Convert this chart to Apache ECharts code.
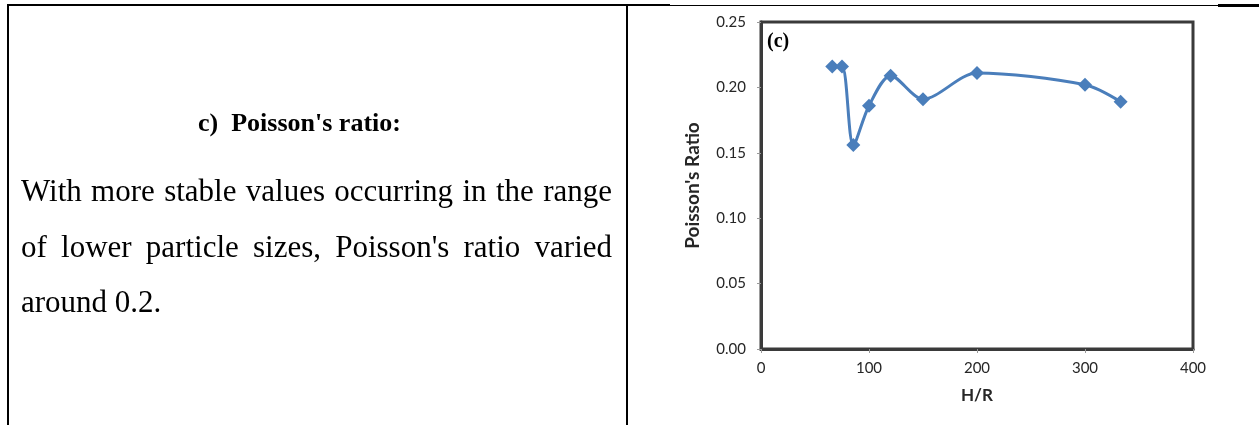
<!DOCTYPE html>
<html>
<head>
<meta charset="utf-8">
<script src="https://cdn.jsdelivr.net/npm/echarts@6/dist/echarts.min.js"></script>
<style>
  html, body { margin: 0; padding: 0; background: #fff; }
  #page { position: relative; width: 1259px; height: 425px; overflow: hidden; }
  #container { position: absolute; left: 0; top: 0; width: 1259px; height: 425px; }
  .rule { position: absolute; background: #000; }
  .txt { position: absolute; font-family: "Liberation Serif", "Times New Roman", serif; color: #000; white-space: nowrap; }
  .just { text-align: justify; text-align-last: justify; }
</style>
</head>
<body>
<div id="page">
  <div id="container"></div>
  <!-- table rules -->
  <div class="rule" style="left:7px;top:4px;width:663px;height:2px"></div>
  <div class="rule" style="left:670px;top:5px;width:548px;height:1px"></div>
  <div class="rule" style="left:1218px;top:4px;width:41px;height:3px"></div>
  <div class="rule" style="left:7px;top:4px;width:2px;height:421px"></div>
  <div class="rule" style="left:626px;top:4px;width:2px;height:421px"></div>
  <!-- left cell text -->
  <div class="txt" style="left:198px;top:106px;font-size:26px;font-weight:bold;line-height:34px">c)&nbsp;&nbsp;Poisson's ratio:</div>
  <div class="txt just" style="left:21px;top:172px;width:591px;font-size:31px;line-height:38px">With more stable values occurring in the range</div>
  <div class="txt just" style="left:21px;top:228px;width:591px;font-size:31px;line-height:38px">of lower particle sizes, Poisson's ratio varied</div>
  <div class="txt" style="left:21px;top:283px;font-size:31px;line-height:38px">around 0.2.</div>
</div>
<script>
var hrValues = [66, 75, 85.5, 100, 120, 150, 200, 300, 333];
var ratioValues = [0.216, 0.216, 0.156, 0.186, 0.209, 0.191, 0.211, 0.202, 0.189];
var xTicks = [0, 100, 200, 300, 400];
var yTicks = [0, 0.05, 0.10, 0.15, 0.20, 0.25];

var points = [];
for (var i = 0; i < hrValues.length; i++) {
    points.push([hrValues[i], ratioValues[i]]);
}

var dom = document.getElementById("container");
var myChart = echarts.init(dom);
var axisFont = 'Lato, "Open Sans", sans-serif';
var option = {
    animation: false,
    grid: {
        left: 761, top: 22, right: 66, bottom: 76,
        show: true, borderColor: '#3a3a3a', borderWidth: 3,
        backgroundColor: 'transparent'
    },
    graphic: [{
        type: 'text', left: 767, top: 32,
        style: { text: '(c)', fill: '#000', font: 'bold 20px "Liberation Serif", serif' }
    }],
    xAxis: {
        type: 'value',
        min: xTicks[0], max: xTicks[xTicks.length - 1], interval: 100,
        name: 'H/R', nameLocation: 'middle', nameGap: 38,
        nameTextStyle: { fontFamily: axisFont, fontWeight: 'bold', fontSize: 17, color: '#262626' },
        axisLine: { show: true, lineStyle: { color: '#3a3a3a', width: 3 } },
        axisTick: { show: true, length: 4, lineStyle: { color: '#999' } },
        axisLabel: { margin: 12, fontFamily: axisFont, fontSize: 15, color: '#262626' },
        splitLine: { show: false }
    },
    yAxis: {
        type: 'value',
        min: yTicks[0], max: yTicks[yTicks.length - 1], interval: 0.05,
        name: "Poisson's Ratio", nameLocation: 'middle', nameGap: 59, nameRotate: 90,
        nameTextStyle: { fontFamily: axisFont, fontWeight: 'bold', fontSize: 19, color: '#262626' },
        axisLine: { show: true, lineStyle: { color: '#3a3a3a', width: 3 } },
        axisTick: { show: true, length: 4, lineStyle: { color: '#999' } },
        axisLabel: {
            margin: 15, fontFamily: axisFont, fontSize: 15, color: '#262626',
            formatter: function (v) { return v.toFixed(2); }
        },
        splitLine: { show: false }
    },
    series: [{
        type: 'line',
        data: points,
        smooth: 0.3,
        symbol: 'diamond',
        symbolSize: 14,
        itemStyle: { color: '#4a7ebb' },
        lineStyle: { color: '#4a7ebb', width: 3 }
    }]
};
myChart.setOption(option, true);
</script>
</body>
</html>
